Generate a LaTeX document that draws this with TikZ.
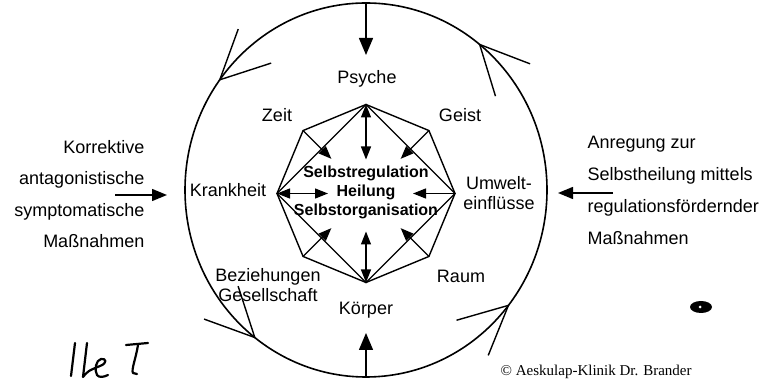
\documentclass[tikz,border=0pt]{standalone}
\usepackage{fontspec}
\setmainfont{Liberation Sans}
\newfontfamily\copyfont{Liberation Serif}
\usetikzlibrary{positioning, arrows.meta, shapes.geometric, calc}

\begin{document}
\begin{tikzpicture}[
    x=1pt, y=1pt, line width=1.4pt,
    every node/.style={font=\fontsize{18}{20}\selectfont, inner sep=0pt},
    lbl/.style={anchor=base},
    ring/.style={draw, ellipse, minimum width=362pt, minimum height=374pt, outer sep=0pt, line width=1.6pt},
    bigarrow/.style={-{Triangle[length=17pt, width=14pt]}},
    sidearrow/.style={-{Triangle[length=15pt, width=12pt]}},
    inarrow/.style={-{Triangle[length=13pt, width=10pt]}},
    dblarrow/.style={{Triangle[length=13pt, width=10pt]}-{Triangle[length=13pt, width=10pt]}},
    pen/.style={line width=2.2pt, line cap=round, line join=round}
  ]
\clip (0,0) rectangle (777,380);

\node[ring] (ring) at (366,190) {};

% octagon corners, v0 = right, counterclockwise
\coordinate (oc) at (366,186.5);
\foreach \i in {0,...,7}
  \coordinate (v\i) at ($(oc)+({\i*45}:89)$);

\draw (v0) -- (v1) -- (v2) -- (v3) -- (v4) -- (v5) -- (v6) -- (v7) -- cycle;
\draw (v0) -- (v2) -- (v4) -- (v6) -- cycle;

% arrows into the centre
\draw[dblarrow] (v2) -- ($(v2)!55pt!(oc)$);
\draw[dblarrow] (v4) -- ($(v4)!51pt!(oc)$);
\draw[dblarrow] (v6) -- ($(v6)!51pt!(oc)$);
\draw[inarrow] (v0) -- ($(v0)!42pt!(oc)$);
\foreach \i in {1,3,5,7}
  \draw[inarrow] (v\i) -- ($(v\i)!40pt!(oc)$);

\node[font=\fontsize{16}{19}\selectfont\bfseries, align=center] (core) at (366,188)
  {Selbstregulation\\Heilung\\Selbstorganisation};

% labels (multi-line: base = last line)
\node[lbl] (psyche) at (367,296) {Psyche};
\node[lbl] (zeit) at (277,258) {Zeit};
\node[lbl] (geist) at (460,258) {Geist};
\node[lbl] (krankheit) at (228,183) {Krankheit};
\node[lbl, align=center] (umwelt) at (499,170) {Umwelt-\\einflüsse};
\node[lbl, align=center] (bez) at (268,78) {Beziehungen\\Gesellschaft};
\node[lbl] (raum) at (461,97) {Raum};
\node[lbl] (koerper) at (366,65) {Körper};

% outside
\node[anchor=base east, align=right, font=\fontsize{18}{31.5}\selectfont] (links) at (145,132)
  {Korrektive\\antagonistische\\symptomatische\\Maßnahmen};
\node[anchor=base west, align=left, font=\fontsize{18}{32}\selectfont] (rechts) at (587,135)
  {Anregung zur\\Selbstheilung mittels\\regulationsfördernder\\Maßnahmen};

\coordinate (topTip) at (366,325);
\coordinate (botTip) at (366,47);
\coordinate (lStart) at (115,185);
\coordinate (lTip) at (167,185);
\coordinate (rStart) at (613,187);
\coordinate (rTip) at (558,187);

\draw[bigarrow] (ring.north) -- (topTip);
\draw[bigarrow] (ring.south) -- (botTip);
\draw[sidearrow] (lStart) -- (lTip);
\draw[sidearrow] (rStart) -- (rTip);

% open arrowheads on the ring
\foreach \a in {143,52,233,321}
  \draw (ring.\a) ++({\a-73}:54) -- (ring.\a) -- ++({\a-125}:54);

\node[font=\copyfont\fontsize{15}{17}\selectfont, anchor=base west] (copy) at (500,4)
  {© Aeskulap-Klinik Dr. Brander};

% pen marks
\draw[pen] (75,37) -- (71,4);
\draw[pen] (87,37) -- (83,3)
  .. controls (88,9) .. (100,14) .. controls (108,17) and (106,22) .. (101,21)
  .. controls (96,20) and (94,10) .. (97,5) .. controls (99,2) and (104,3) .. (108,5);
\draw[pen] (126,35) -- (148,37);
\draw[pen] (138,35) .. controls (136,22) and (131,10) .. (133,7) -- (137,6);
\fill (701,73) ellipse [x radius=11pt, y radius=6pt];
\fill[white] (700,73) circle (1.5pt);
\end{tikzpicture}
\end{document}
